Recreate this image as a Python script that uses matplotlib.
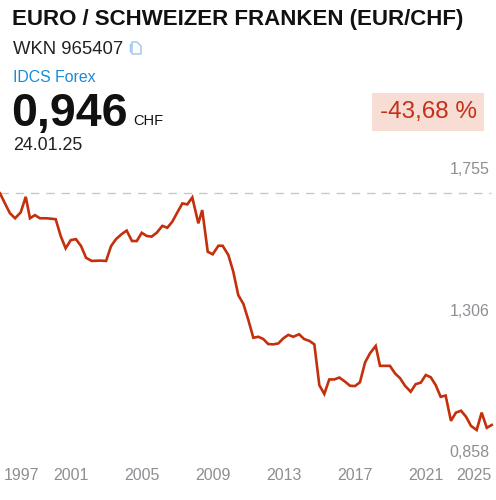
import matplotlib
matplotlib.use("Agg")
import matplotlib.pyplot as plt
from matplotlib.patches import Rectangle, Polygon
import matplotlib.transforms as mtransforms

# ---- data ----
years = [1997.00, 1997.28, 1997.56, 1997.85, 1998.17, 1998.45, 1998.69, 1998.97,
         1999.25, 1999.63, 2000.14, 2000.42, 2000.70, 2000.99, 2001.28, 2001.57,
         2001.85, 2002.17, 2002.64, 2002.98, 2003.26, 2003.54, 2003.86, 2004.14,
         2004.44, 2004.71, 2004.99, 2005.27, 2005.55, 2005.83, 2006.15, 2006.43,
         2006.71, 2007.02, 2007.28, 2007.56, 2007.84, 2008.18, 2008.40, 2008.71,
         2008.99, 2009.31, 2009.55, 2009.87, 2010.15, 2010.43, 2010.72, 2011.00,
         2011.28, 2011.56, 2011.84, 2012.12, 2012.41, 2012.69, 2012.97, 2013.25,
         2013.53, 2013.86, 2014.14, 2014.44, 2014.72, 2015.00, 2015.28, 2015.56,
         2015.84, 2016.13, 2016.45, 2016.73, 2017.01, 2017.29, 2017.58, 2017.86,
         2018.18, 2018.42, 2018.70, 2018.98, 2019.27, 2019.55, 2019.83, 2020.15,
         2020.43, 2020.72, 2021.00, 2021.28, 2021.56, 2021.84, 2022.12, 2022.42,
         2022.70, 2022.99, 2023.27, 2023.55, 2023.87, 2024.15, 2024.44, 2024.72]
values = [1.679, 1.647, 1.616, 1.600, 1.619, 1.668, 1.600, 1.610,
          1.600, 1.600, 1.597, 1.544, 1.505, 1.531, 1.534, 1.512,
          1.475, 1.465, 1.466, 1.465, 1.512, 1.534, 1.550, 1.561,
          1.528, 1.528, 1.554, 1.544, 1.542, 1.554, 1.576, 1.570,
          1.589, 1.621, 1.647, 1.644, 1.666, 1.584, 1.626, 1.494,
          1.486, 1.513, 1.513, 1.484, 1.431, 1.357, 1.329, 1.278,
          1.222, 1.225, 1.218, 1.202, 1.201, 1.204, 1.220, 1.231,
          1.225, 1.233, 1.218, 1.212, 1.201, 1.072, 1.044, 1.090,
          1.090, 1.096, 1.083, 1.070, 1.069, 1.081, 1.144, 1.173,
          1.196, 1.133, 1.133, 1.133, 1.109, 1.094, 1.070, 1.051,
          1.075, 1.080, 1.104, 1.097, 1.072, 1.035, 1.039, 0.959,
          0.985, 0.991, 0.972, 0.943, 0.930, 0.985, 0.937, 0.946]
x_ticks = [1997, 2001, 2005, 2009, 2013, 2017, 2021, 2025]
x_tick_labels = ["1997", "2001", "2005", "2009", "2013", "2017", "2021", "2025"]
y_ticks = [1.755, 1.306, 0.858]
y_tick_labels = ["1,755", "1,306", "0,858"]
title = "EURO / SCHWEIZER FRANKEN (EUR/CHF)"
wkn = "WKN 965407"
exchange = "IDCS Forex"
price = "0,946"
currency = "CHF"
date = "24.01.25"
change = "-43,68 %"

W, H = 496, 500
plt.rcParams['font.family'] = ['Liberation Sans', 'DejaVu Sans']
fig = plt.figure(figsize=(W / 100, H / 100), dpi=100)
fig.patch.set_facecolor('white')

LINE = '#c3300b'
GRAY = '#8e8e93'

# ---- header ----
def fy(p):
    return 1 - p / H

def fx(p):
    return p / W

fig.text(fx(12), fy(19), title, fontsize=16, fontweight='bold', color='#111111', va='center', ha='left')
fig.text(fx(13), fy(49), wkn, fontsize=13.3, color='#222222', va='center', ha='left')
# document icon
ax_icon = fig.add_axes([fx(128), fy(55), fx(14), 14 / H])
ax_icon.set_xlim(0, 14); ax_icon.set_ylim(0, 14); ax_icon.axis('off')
ax_icon.add_patch(Polygon([[4, 1], [4, 13], [9, 13], [13, 9], [13, 1]], closed=True,
                          fill=False, edgecolor='#9cc4f0', lw=1.0))
ax_icon.add_patch(Polygon([[1.5, 3.5], [1.5, 11], [4, 11]], closed=False, fill=False,
                          edgecolor='#9cc4f0', lw=1.0))
fig.text(fx(13), fy(77), exchange, fontsize=11.4, color='#1a8ad6', va='center', ha='left')
fig.text(fx(11), fy(114), price, fontsize=33.5, fontweight='bold', color='#111111', va='center', ha='left')
fig.text(fx(133), fy(121), currency, fontsize=10.5, color='#111111', va='center', ha='left')
fig.text(fx(13), fy(146), date, fontsize=12.9, color='#222222', va='center', ha='left')
fig.patches.append(Rectangle((fx(372), fy(130.5)), fx(112), 37.5 / H, transform=fig.transFigure,
                             facecolor='#f8ddd5', edgecolor='none'))
fig.text(fx(428), fy(112), change, fontsize=17.5, color='#c4311a', va='center', ha='center')

# ---- chart ----
top_px, bot_px = 160, 500
px_per_unit = 316.0
y_top = 1.755 + (169.3 - top_px) / px_per_unit
y_bot = 1.755 - (bot_px - 169.3) / px_per_unit
ax = fig.add_axes([0, 1 - bot_px / H, 1, (bot_px - top_px) / H])
ax.set_xlim(1997, 1997 + W / 17.74)
ax.set_ylim(y_bot, y_top)
ax.axis('off')

ax.axhline(values[0], xmin=0, xmax=491 / W, color='#c8c8c8', lw=1.0, dashes=(6, 5))
ax.plot(years, values, color=LINE, lw=1.9, solid_joinstyle='miter', clip_on=False)

ytrans = mtransforms.blended_transform_factory(ax.transAxes, ax.transData)
for v, lab in zip(y_ticks, y_tick_labels):
    ax.text(490 / W, v, lab, transform=ytrans, ha='right', va='center', fontsize=11.5, color=GRAY)

xtrans = mtransforms.blended_transform_factory(ax.transData, ax.transAxes)
yl = (bot_px - 476) / (bot_px - top_px)
xmin, xmax = ax.get_xlim()
for i, (xv, lab) in enumerate(zip(x_ticks, x_tick_labels)):
    if i == 0:
        ax.text(xmin, yl, lab, transform=xtrans + mtransforms.ScaledTranslation(4 / 100, 0, fig.dpi_scale_trans),
                ha='left', va='center', fontsize=11.5, color=GRAY)
    elif i == len(x_ticks) - 1:
        ax.text(xmax, yl, lab, transform=xtrans + mtransforms.ScaledTranslation(-4.5 / 100, 0, fig.dpi_scale_trans),
                ha='right', va='center', fontsize=11.5, color=GRAY)
    else:
        ax.text(xv, yl, lab, transform=xtrans, ha='center', va='center', fontsize=11.5, color=GRAY)

fig.savefig('out.png', dpi=100, facecolor='white')
